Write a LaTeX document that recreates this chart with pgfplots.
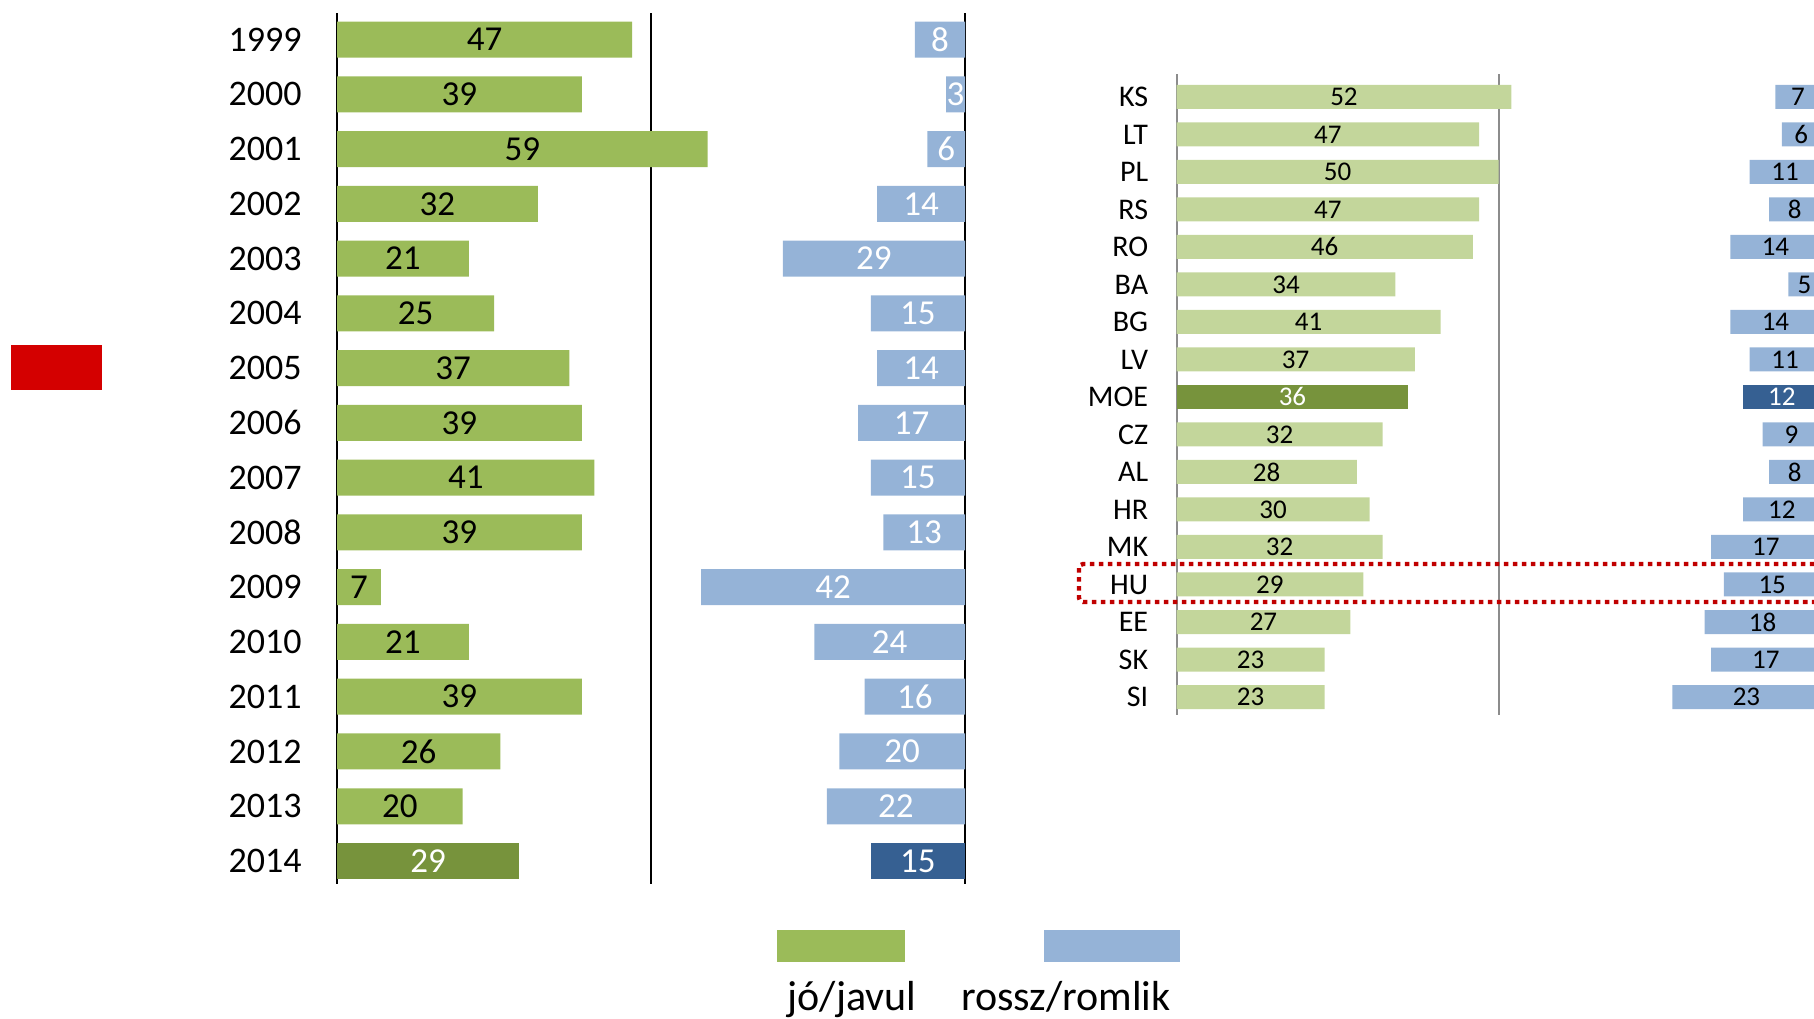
\documentclass[border=0pt]{standalone}
\usepackage{fontspec}
\setmainfont{Carlito}
\usepackage{pgfplots}
\pgfplotsset{compat=1.18}

\definecolor{grn}{HTML}{9BBB59}
\definecolor{grndark}{HTML}{77933C}
\definecolor{grnlight}{HTML}{C3D69B}
\definecolor{blu}{HTML}{95B3D7}
\definecolor{bludark}{HTML}{366092}
\definecolor{redbox}{HTML}{C00000}
\definecolor{redflag}{HTML}{D40000}

\pgfplotsset{
  panel/.style={
    scale only axis, anchor=south west,
    xmin=0, xmax=100, y dir=reverse,
    xbar, bar shift=0pt,
    /pgf/number format/assume math mode=true,
    visualization depends on={x \as \rawx},
    nodes near coords,
    every node near coord/.append style={anchor=center, inner sep=0pt,
      shift={(axis direction cs:-\rawx/2,0)}},
  },
  years/.style={panel, at={(168.5pt,-442pt)}, width=314pt, height=435.5pt,
    ymin=-0.484, ymax=15.42, bar width=18pt,
    nodes near coords style={font=\fontsize{17.5}{17.5}\selectfont}},
  countries/.style={panel, at={(588.25pt,-357.5pt)}, width=322pt, height=320.5pt,
    ymin=-0.61, ymax=16.48, bar width=12pt,
    nodes near coords style={font=\fontsize{13.5}{13.5}\selectfont}},
}

\begin{document}
\begin{tikzpicture}
\path[use as bounding box] (0pt,0pt) rectangle (907pt,-509pt);

% left: years, good side
\begin{axis}[years,
    axis line style={draw=none},
    xtick={0,50,100}, xticklabels={}, xmajorgrids,
    grid style={black, line width=1.3pt},
    ytick={0,...,15},
    yticklabels={1999,2000,2001,2002,2003,2004,2005,2006,2007,2008,2009,2010,2011,2012,2013,2014},
    major tick length=0pt,
    yticklabel style={font=\fontsize{18}{18}\selectfont, inner sep=0pt, xshift=-17.5pt},
  ]
  \addplot[fill=grn, draw=none, nodes near coords style={text=black}] coordinates {
    (47,0) (39,1) (59,2) (32,3) (21,4) (25,5) (37,6) (39,7)
    (41,8) (39,9) (7,10) (21,11) (39,12) (26,13) (20,14)
  };
  \addplot[fill=grndark, draw=none, nodes near coords style={text=white}] coordinates {(29,15)};
\end{axis}

% left: years, bad side
\begin{axis}[years, x dir=reverse, hide axis]
  \addplot[fill=blu, draw=none, nodes near coords style={text=white}] coordinates {
    (8,0) (3,1) (6,2) (14,3) (29,4) (15,5) (14,6) (17,7)
    (15,8) (13,9) (42,10) (24,11) (16,12) (20,13) (22,14)
  };
  \addplot[fill=bludark, draw=none, nodes near coords style={text=white}] coordinates {(15,15)};
\end{axis}

% right: countries, good side
\begin{axis}[countries,
    axis line style={draw=none},
    xtick={0,50,100}, xticklabels={}, xmajorgrids,
    grid style={color=black!45, line width=1pt},
    ytick={0,...,16},
    yticklabels={KS,LT,PL,RS,RO,BA,BG,LV,MOE,CZ,AL,HR,MK,HU,EE,SK,SI},
    major tick length=0pt,
    yticklabel style={font=\fontsize{15}{15}\selectfont, inner sep=0pt, xshift=-14pt},
  ]
  \addplot[fill=grnlight, draw=none, nodes near coords style={text=black}] coordinates {
    (52,0) (47,1) (50,2) (47,3) (46,4) (34,5) (41,6) (37,7)
    (32,9) (28,10) (30,11) (32,12) (29,13) (27,14) (23,15) (23,16)
  };
  \addplot[fill=grndark, draw=none, nodes near coords style={text=white}] coordinates {(36,8)};
\end{axis}

% right: countries, bad side
\begin{axis}[countries, x dir=reverse, hide axis]
  \addplot[fill=blu, draw=none, nodes near coords style={text=black}] coordinates {
    (7,0) (6,1) (11,2) (8,3) (14,4) (5,5) (14,6) (11,7)
    (9,9) (8,10) (12,11) (17,12) (15,13) (18,14) (17,15) (23,16)
  };
  \addplot[fill=bludark, draw=none, nodes near coords style={text=white}] coordinates {(12,8)};
\end{axis}

% annotations
\fill[redflag] (5.5pt,-172.5pt) rectangle (51pt,-195pt);
\draw[redbox, line width=2.2pt, dash pattern=on 2.3pt off 2.2pt, rounded corners=2pt]
  (539.5pt,-282pt) rectangle (925pt,-301pt);

% legend
\fill[grn] (388.5pt,-465pt) rectangle (452.5pt,-481pt);
\fill[blu] (522pt,-465pt) rectangle (590pt,-481pt);
\node[anchor=base, inner sep=0pt, font=\fontsize{21}{21}\selectfont] at (426pt,-505pt) {jó/javul};
\node[anchor=base, inner sep=0pt, font=\fontsize{21}{21}\selectfont] at (533pt,-505pt) {rossz/romlik};
\end{tikzpicture}
\end{document}
